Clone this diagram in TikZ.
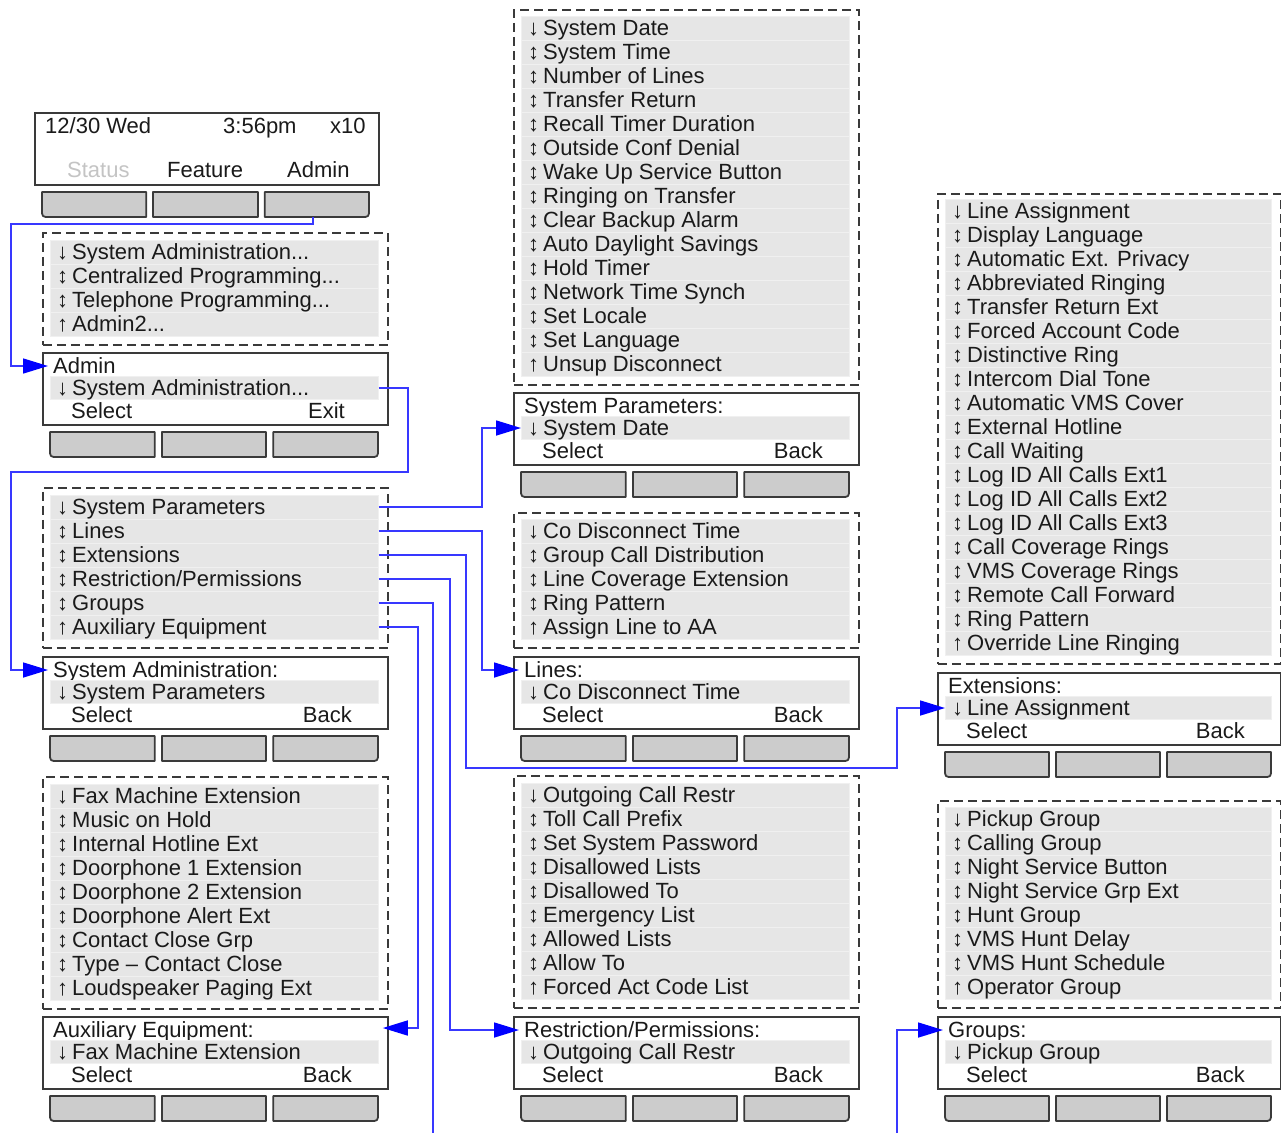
\documentclass[tikz,border=0pt]{standalone}
\usepackage{fontspec}
\setmainfont{Liberation Sans}
\usetikzlibrary{arrows.meta,calc}
\definecolor{rowgrey}{HTML}{E6E6E6}
\definecolor{rowsep}{HTML}{F0F0F0}
\definecolor{btngrey}{HTML}{CCCCCC}
\definecolor{edge}{HTML}{3A3A3A}
\definecolor{ink}{HTML}{1A1A1A}
\definecolor{linkblue}{HTML}{3838FF}
\definecolor{tipblue}{HTML}{0000FF}
\definecolor{dimtext}{HTML}{C4C4C4}

\newcommand\lcdfont{\fontsize{22}{24}\selectfont}
\newcommand\ardn{\makebox[15pt][l]{↓}}
\newcommand\arbt{\makebox[15pt][l]{↕}}
\newcommand\arup{\makebox[15pt][l]{↑}}
\newcommand\tdots{...}

\tikzset{
 rowbg/.style={fill=rowgrey, draw=rowsep, line width=0.6pt, inner sep=0pt, minimum height=24pt, anchor=west},
 lcd/.style={font=\lcdfont, text=ink, inner xsep=0pt, inner ysep=1pt, text height=18pt, text depth=4pt},
 dashbox/.style={draw=edge, line width=1.8pt, dash pattern=on 9pt off 5pt, inner sep=0pt, anchor=north west},
 scrbox/.style={draw=edge, line width=1.8pt, fill=white, inner sep=0pt, anchor=north west},
 btnshape/.style={draw=edge, line width=1.8pt, fill=btngrey, line join=round},
 conn/.style={draw=linkblue, line width=1.6pt},
 arrowin/.style={-{Triangle[length=25pt,width=15pt,color=tipblue]}},
}

% #1 prefix, #2 x, #3 y, #4 total width
\newcommand\softkeys[4]{%
  \pgfmathsetmacro\kx{#2}\pgfmathsetmacro\ky{#3}\pgfmathsetmacro\kw{(#4-14)/3}%
  \pgfmathsetmacro\kxb{\kx+\kw+7}\pgfmathsetmacro\kxc{\kx+2*\kw+14}%
  \draw[btnshape] (\kx,\ky) -- (\kx,\ky+17) .. controls (\kx,\ky+25) .. (\kx+8,\ky+25) -- (\kx+\kw,\ky+25) -- (\kx+\kw,\ky) -- cycle;
  \draw[btnshape] (\kxb,\ky) rectangle (\kxb+\kw,\ky+25);
  \draw[btnshape] (\kxc,\ky) -- (\kxc,\ky+25) -- (\kxc+\kw-8,\ky+25) .. controls (\kxc+\kw,\ky+25) .. (\kxc+\kw,\ky+17) -- (\kxc+\kw,\ky) -- cycle;
}

% #1 prefix, #2 left, #3 dashed top, #4 inner top, #5 width, #6 count, #7 items
\newcommand\menulist[7]{%
  \pgfmathsetmacro\mh{24*#6+8+#4-#3}%
  \pgfmathsetmacro\mrw{#5-17}%
  \node[dashbox, minimum width=#5pt, minimum height=\mh pt] (#1) at (#2,#3) {};
  \foreach \itm [count=\i] in {#7}{%
    \pgfmathsetmacro\yc{#4+12+24*(\i-1)}%
    \ifnum\i=1 \def\myarr{\ardn}\else\ifnum\i=#6 \def\myarr{\arup}\else\def\myarr{\arbt}\fi\fi
    \node[rowbg, minimum width=\mrw pt] (#1-\i) at (#2+8,\yc) {};
    \node[lcd, anchor=west] (#1-\i-t) at (#2+15,\yc) {\myarr\itm};
  }
}

% #1 prefix, #2 left, #3 top, #4 width, #5 title, #6 row, #7 right label, #8 right offset
\newcommand\screen[8]{%
  \pgfmathsetmacro\mrw{#4-17}%
  \node[scrbox, minimum width=#4pt, minimum height=72pt] (#1) at (#2,#3) {};
  \node[lcd, anchor=west, inner xsep=5pt] (#1-T) at (#2+6,#3+14) {#5};
  \node[rowbg, minimum width=\mrw pt, minimum height=23pt] (#1-R) at (#2+8,#3+36) {};
  \node[lcd, anchor=west] (#1-Rt) at (#2+15,#3+36) {\ardn#6};
  \node[lcd, anchor=west] (#1-S) at (#2+29,#3+59) {Select};
  \node[lcd, anchor=east] (#1-B) at (#2+#4-#8,#3+59) {#7};
  \softkeys{#1}{#2+8}{#3+80}{\mrw}
}

\begin{document}
\begin{tikzpicture}[x=1pt,y=-1pt]
\useasboundingbox[fill=white] (0,0) rectangle (1281,1133);

% top phone display
\node[scrbox, minimum width=344pt, minimum height=72pt] (phone) at (34,112) {};
\node[lcd, anchor=west] (ph-d) at (45,126.5) {12/30 Wed};
\node[lcd, anchor=west] (ph-t) at (223,126.5) {3:56pm};
\node[lcd, anchor=west] (ph-x) at (330,126.5) {x10};
\node[lcd, anchor=west, text=dimtext] (ph-s) at (67,170.5) {Status};
\node[lcd, anchor=west] (ph-f) at (167,170.5) {Feature};
\node[lcd, anchor=west] (ph-a) at (287,170.5) {Admin};
\softkeys{ph}{42}{192}{327}

% column 1
\menulist{ma}{42}{232}{240}{345}{4}{System Administration\tdots,Centralized Programming\tdots,Telephone Programming\tdots,Admin2\tdots}
\screen{adm}{42}{352}{345}{Admin}{System Administration\tdots}{Exit}{42}
\menulist{mb}{42}{487}{495}{345}{6}{System Parameters,Lines,Extensions,Restriction/Permissions,Groups,Auxiliary Equipment}
\screen{sad}{42}{656}{345}{System Administration:}{System Parameters}{Back}{35}
\menulist{mc}{42}{776}{784}{345}{9}{Fax Machine Extension,Music on Hold,Internal Hotline Ext,Doorphone 1 Extension,Doorphone 2 Extension,Doorphone Alert Ext,Contact Close Grp,Type – Contact Close,Loudspeaker Paging Ext}
\screen{aux}{42}{1016}{345}{Auxiliary Equipment:}{Fax Machine Extension}{Back}{35}

% column 2
\menulist{md}{513}{9}{16}{345}{15}{System Date,System Time,Number of Lines,Transfer Return,Recall Timer Duration,Outside Conf Denial,Wake Up Service Button,Ringing on Transfer,Clear Backup Alarm,Auto Daylight Savings,Hold Timer,Network Time Synch,Set Locale,Set Language,Unsup Disconnect}
\screen{spm}{513}{392}{345}{System Parameters:}{System Date}{Back}{35}
\menulist{me}{513}{512}{519}{345}{5}{Co Disconnect Time,Group Call Distribution,Line Coverage Extension,Ring Pattern,Assign Line to AA}
\screen{lin}{513}{656}{345}{Lines:}{Co Disconnect Time}{Back}{35}
\menulist{mf}{513}{775}{783}{345}{9}{Outgoing Call Restr,Toll Call Prefix,Set System Password,Disallowed Lists,Disallowed To,Emergency List,Allowed Lists,Allow To,Forced Act Code List}
\screen{rsp}{513}{1016}{345}{Restriction/Permissions:}{Outgoing Call Restr}{Back}{35}

% column 3
\menulist{mg}{937}{193}{199}{343}{19}{Line Assignment,Display Language,Automatic Ext. Privacy,Abbreviated Ringing,Transfer Return Ext,Forced Account Code,Distinctive Ring,Intercom Dial Tone,Automatic VMS Cover,External Hotline,Call Waiting,Log ID All Calls Ext1,Log ID All Calls Ext2,Log ID All Calls Ext3,Call Coverage Rings,VMS Coverage Rings,Remote Call Forward,Ring Pattern,Override Line Ringing}
\screen{ext}{937}{672}{343}{Extensions:}{Line Assignment}{Back}{35}
\menulist{mh}{937}{800}{807}{343}{8}{Pickup Group,Calling Group,Night Service Button,Night Service Grp Ext,Hunt Group,VMS Hunt Delay,VMS Hunt Schedule,Operator Group}
\screen{grp}{937}{1016}{343}{Groups:}{Pickup Group}{Back}{35}

% connectors
\coordinate (pbtn) at (313,217);
\coordinate (k1) at (11,224);
\draw[conn, arrowin] (pbtn) |- (k1) |- (adm-T.west);

\coordinate (k2a) at (408,472);
\coordinate (k2b) at (11,472);
\draw[conn, arrowin] (adm-R.east) -| (k2a) -- (k2b) |- (sad-T.west);

\coordinate (k3) at (482,470);
\draw[conn, arrowin] (mb-1.east) -| (k3) |- (spm-R.west);

\coordinate (k4) at (482,600);
\draw[conn, arrowin] (mb-2.east) -| (k4) |- (lin-T.west);

\coordinate (k5a) at (466,768);
\coordinate (k5b) at (897,768);
\draw[conn, arrowin] (mb-3.east) -| (k5a) -- (k5b) |- (ext-R.west);

\coordinate (k6) at (450,800);
\draw[conn, arrowin] (mb-4.east) -| (k6) |- (rsp-T.west);

\coordinate (k7) at (433,1133);
\draw[conn] (mb-5.east) -| (k7);

\coordinate (k8) at (897,1133);
\draw[conn, arrowin] (k8) |- (grp-T.west);

\coordinate (k9) at (418,800);
\draw[conn, arrowin] (mb-6.east) -| (k9) |- ([xshift=-6pt,yshift=2pt]aux.east |- aux-T.west);
\end{tikzpicture}
\end{document}
